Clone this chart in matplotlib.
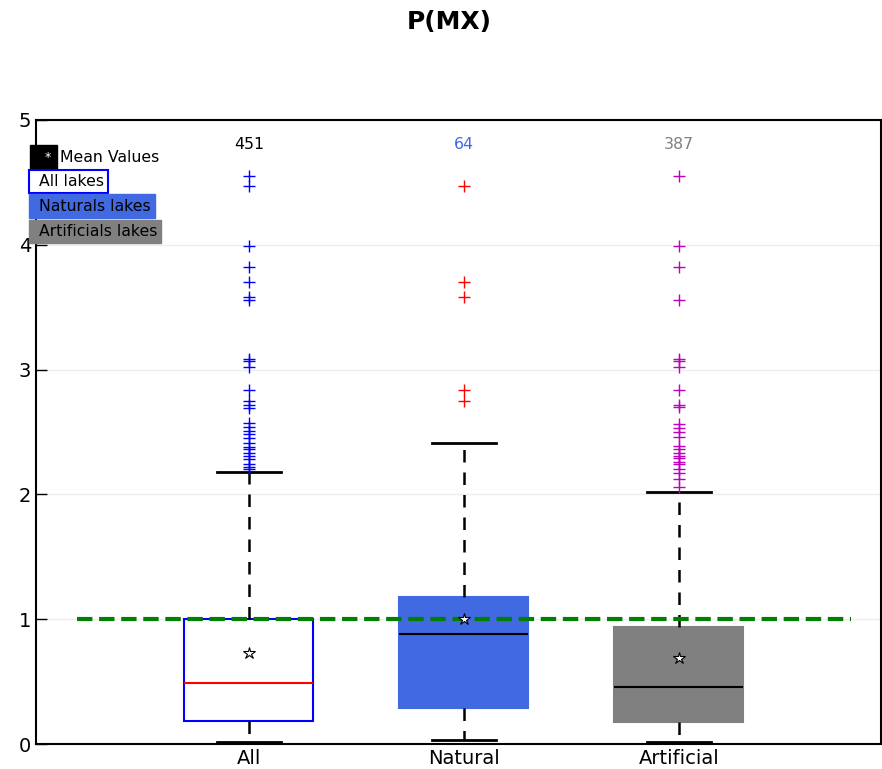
import matplotlib
matplotlib.use("Agg")
import matplotlib.pyplot as plt

# box statistics
labels = ["All", "Natural", "Artificial"]
counts = ["451", "64", "387"]
medians = [0.49, 0.88, 0.46]
q1s = [0.185, 0.29, 0.175]
q3s = [1.0, 1.18, 0.94]
whis_lo = [0.02, 0.03, 0.02]
whis_hi = [2.18, 2.41, 2.02]
means = [0.73, 1.0, 0.69]

fliers_all = [4.55, 4.47, 3.99, 3.82, 3.70, 3.58, 3.56, 3.085, 3.07, 3.02, 2.84,
              2.75, 2.72, 2.69, 2.57, 2.54, 2.51, 2.48, 2.45, 2.41, 2.38, 2.36,
              2.33, 2.31, 2.28, 2.24, 2.22, 2.20]
fliers_nat = [4.47, 3.70, 3.58, 2.84, 2.75]
fliers_art = [4.55, 3.99, 3.82, 3.56, 3.085, 3.07, 3.02, 2.84, 2.72, 2.70, 2.56,
              2.53, 2.50, 2.46, 2.39, 2.36, 2.33, 2.31, 2.29, 2.26, 2.24, 2.20,
              2.17, 2.12, 2.06]
fliers = [fliers_all, fliers_nat, fliers_art]

reference_value = 1.0

face_colors = ["white", "royalblue", "gray"]
edge_colors = ["blue", "royalblue", "gray"]
median_colors = ["red", "black", "black"]
flier_colors = ["blue", "red", "m"]
count_colors = ["black", "royalblue", "gray"]

fig = plt.figure(figsize=(8.82, 7.69), dpi=100)
ax = fig.add_axes([0.0408, 0.0325, 0.958, 0.8115])

for i in range(3):
    stats = [{"label": labels[i], "med": medians[i], "q1": q1s[i], "q3": q3s[i],
              "whislo": whis_lo[i], "whishi": whis_hi[i], "mean": means[i],
              "fliers": fliers[i]}]
    ax.bxp(stats, positions=[i + 1], widths=0.6, showmeans=True, patch_artist=True,
           boxprops=dict(facecolor=face_colors[i], edgecolor=edge_colors[i], linewidth=1.5),
           medianprops=dict(color=median_colors[i], linewidth=1.5),
           whiskerprops=dict(color="black", linestyle="--", linewidth=1.8, dashes=(5, 4)),
           capprops=dict(color="black", linewidth=2),
           meanprops=dict(marker="*", markerfacecolor="white", markeredgecolor="black",
                          markersize=9, markeredgewidth=0.8),
           flierprops=dict(marker="+", markeredgecolor=flier_colors[i], markersize=9,
                           markeredgewidth=1.0))
    ax.text(i + 1, 4.8, counts[i], color=count_colors[i], ha="center", va="center",
            fontsize=11.3)

ax.hlines(reference_value, 0.2, 3.8, colors="green", linestyles="--", linewidth=3)

ax.set_xlim(0.01, 3.94)
ax.set_ylim(0, 5)
ax.set_yticks([0, 1, 2, 3, 4, 5])
ax.set_xticks([1, 2, 3])
ax.set_xticklabels(labels)
ax.tick_params(direction="in", labelsize=14, length=8, width=1)
ax.tick_params(axis="x", length=0)
ax.yaxis.grid(True, color="#eeeeee", linewidth=1)
ax.set_axisbelow(True)
for s in ax.spines.values():
    s.set_linewidth(1.5)

# legend built from text boxes
fig.text(0.0415, 0.795, "  *", color="white", fontsize=9, ha="left", va="center",
         bbox=dict(boxstyle="square,pad=0.5", facecolor="black", edgecolor="black"))
fig.text(0.068, 0.795, "Mean Values", fontsize=11.3, ha="left", va="center")
fig.text(0.038, 0.764, " All lakes", fontsize=11.3, ha="left", va="center",
         bbox=dict(boxstyle="square,pad=0.28", facecolor="white", edgecolor="blue", linewidth=1.5))
fig.text(0.038, 0.732, " Naturals lakes", fontsize=11.3, ha="left", va="center",
         bbox=dict(boxstyle="square,pad=0.28", facecolor="royalblue", edgecolor="royalblue"))
fig.text(0.038, 0.699, " Artificials lakes", fontsize=11.3, ha="left", va="center",
         bbox=dict(boxstyle="square,pad=0.28", facecolor="gray", edgecolor="gray"))

fig.suptitle("P(MX)", x=0.509, fontsize=18, fontweight="bold", y=0.987)

fig.savefig("out.png", dpi=100)
